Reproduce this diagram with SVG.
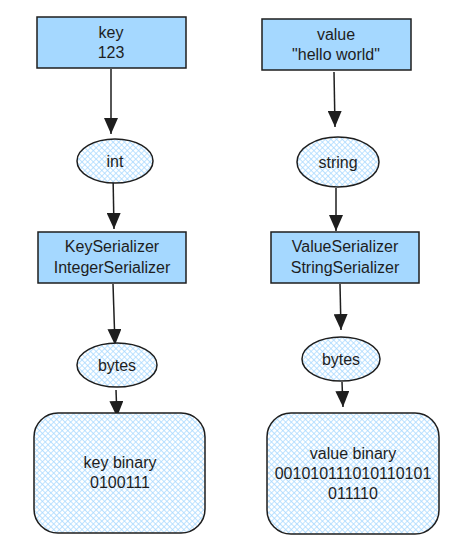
<svg xmlns="http://www.w3.org/2000/svg" width="460" height="553" viewBox="0 0 460 553">
<style>
.box{fill:#a5d8ff;stroke:#1e1e1e;stroke-width:1.5}
.hatch{fill:url(#xh);stroke:#1e1e1e;stroke-width:1.5}
.t{font-family:"Liberation Sans",Arial,sans-serif;font-size:16px;fill:#1e1e1e;text-anchor:middle}
.c{stroke:#1e1e1e;stroke-width:1.5;fill:none;marker-end:url(#ah)}
</style>
<defs>
<pattern id="xh" width="4" height="4" patternUnits="userSpaceOnUse" patternTransform="rotate(45)">
<rect width="4" height="4" fill="#ffffff"/>
<path d="M0 0H4M0 0V4" stroke="#a5d8ff" stroke-width="1.4"/>
</pattern>
<marker id="ah" viewBox="0 0 16 14" refX="16" refY="7" markerWidth="16" markerHeight="14" markerUnits="userSpaceOnUse" orient="auto">
<path d="M0 0L16 7L0 14Z" fill="#1e1e1e"/>
</marker>
</defs>
<g id="connectors">
<path d="M111 69L111 134" class="c"/>
<path d="M113 174L114 229" class="c"/>
<path d="M113 284L115 345" class="c"/>
<path d="M116 390L117 417" class="c"/>
<path d="M334 72L335 127" class="c"/>
<path d="M336 188L336 231" class="c"/>
<path d="M340 284L341 330" class="c"/>
<path d="M342 382L343 407" class="c"/>
</g>
<g id="key">
<rect x="37" y="17" width="149" height="51" class="box"/>
<text class="t" x="111" y="38">key</text>
<text class="t" x="111" y="58">123</text>
</g>
<g id="int">
<ellipse cx="115" cy="161" rx="38" ry="22" class="hatch"/>
<text class="t" x="115" y="167">int</text>
</g>
<g id="keyserializer">
<rect x="38" y="232" width="148" height="51" class="box"/>
<text class="t" x="112" y="252">KeySerializer</text>
<text class="t" x="112" y="273">IntegerSerializer</text>
</g>
<g id="bytes-key">
<ellipse cx="117" cy="365" rx="40" ry="22" class="hatch"/>
<text class="t" x="117" y="371">bytes</text>
</g>
<g id="keybinary">
<rect x="34" y="413" width="171" height="120" rx="24" class="hatch"/>
<text class="t" x="120" y="468">key binary</text>
<text class="t" x="120" y="488">0100111</text>
</g>
<g id="value">
<rect x="262" y="19" width="149" height="51" class="box"/>
<text class="t" x="336" y="40">value</text>
<text class="t" x="336" y="60">"hello world"</text>
</g>
<g id="string">
<ellipse cx="338" cy="162" rx="41" ry="25" class="hatch"/>
<text class="t" x="338" y="168">string</text>
</g>
<g id="valueserializer">
<rect x="271" y="232" width="148" height="51" class="box"/>
<text class="t" x="345" y="252">ValueSerializer</text>
<text class="t" x="345" y="273">StringSerializer</text>
</g>
<g id="bytes-value">
<ellipse cx="341" cy="359" rx="39" ry="22" class="hatch"/>
<text class="t" x="341" y="365">bytes</text>
</g>
<g id="valuebinary">
<rect x="267" y="413" width="172" height="121" rx="24" class="hatch"/>
<text class="t" x="353" y="459">value binary</text>
<text class="t" x="353" y="479">001010111010110101</text>
<text class="t" x="353" y="499">011110</text>
</g>
</svg>
